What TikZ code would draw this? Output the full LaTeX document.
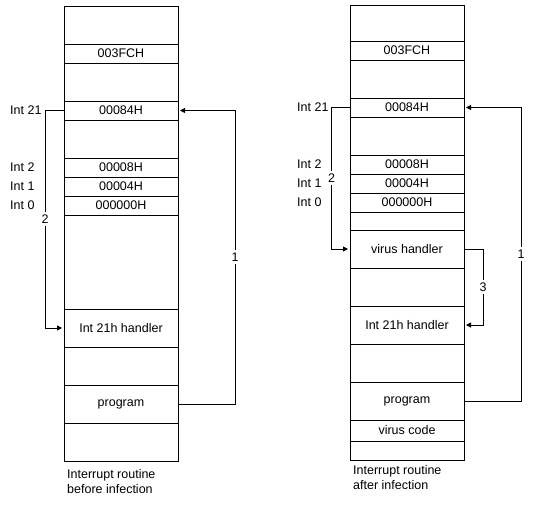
\documentclass[tikz,border=0pt]{standalone}
\usepackage{fontspec}
\setmainfont{Liberation Sans}
\usetikzlibrary{arrows.meta,positioning}

\begin{document}
\begin{tikzpicture}[x=1pt,y=-1pt,
cell/.style={draw, line width=1pt, minimum width=114pt, inner sep=0pt, outer sep=0pt, font=\fontsize{12.5}{14}\selectfont},
tall/.style={cell, minimum height=38pt},
short/.style={cell, minimum height=19pt},
intlabel/.style={anchor=west, inner sep=0pt, font=\fontsize{12.5}{14}\selectfont},
caption/.style={anchor=north west, align=left, inner sep=0pt, font=\fontsize{12.5}{15.5}\selectfont},
num/.style={fill=white, inner sep=2.5pt, font=\fontsize{12.5}{14}\selectfont},
link/.style={line width=1pt, -{Triangle[length=5pt,width=5pt]}, shorten >=2pt}
]

\path[use as bounding box, fill=white] (0,0) rectangle (541,506);

% Memory before infection (left column)
\node[tall, anchor=north west] (lTop) at (64,6) {};
\node[short, below=0pt of lTop] (lFC) {003FCH};
\node[tall, below=0pt of lFC] (lGapA) {};
\node[short, below=0pt of lGapA] (l84) {00084H};
\node[tall, below=0pt of l84] (lGapB) {};
\node[short, below=0pt of lGapB] (l08) {00008H};
\node[short, below=0pt of l08] (l04) {00004H};
\node[short, below=0pt of l04] (l00) {000000H};
\node[cell, minimum height=94pt, below=0pt of l00] (lGapC) {};
\node[tall, below=0pt of lGapC] (lH21) {Int 21h handler};
\node[tall, below=0pt of lH21] (lGapD) {};
\node[tall, below=0pt of lGapD] (lProg) {program};
\node[tall, below=0pt of lProg] (lEnd) {};

% Vector labels (left)
\node[intlabel] (lI21) at (10,0 |- l84) {Int 21};
\node[intlabel] (lI2) at (10,0 |- l08) {Int 2};
\node[intlabel] (lI1) at (10,0 |- l04) {Int 1};
\node[intlabel] (lI0) at (10,0 |- l00) {Int 0};

\node[caption] (lCap) at ([xshift=3pt,yshift=-8pt]lEnd.south west) {Interrupt routine\\before infection};

% Memory after infection (right column)
\node[cell, minimum height=36pt, anchor=north west] (rTop) at (350,5) {};
\node[short, below=0pt of rTop] (rFC) {003FCH};
\node[tall, below=0pt of rFC] (rGapA) {};
\node[short, below=0pt of rGapA] (r84) {00084H};
\node[tall, below=0pt of r84] (rGapB) {};
\node[short, below=0pt of rGapB] (r08) {00008H};
\node[short, below=0pt of r08] (r04) {00004H};
\node[short, below=0pt of r04] (r00) {000000H};
\node[cell, minimum height=18pt, below=0pt of r00] (rGapC) {};
\node[tall, below=0pt of rGapC] (rVir) {virus handler};
\node[tall, below=0pt of rVir] (rGapD) {};
\node[tall, below=0pt of rGapD] (rH21) {Int 21h handler};
\node[tall, below=0pt of rH21] (rGapE) {};
\node[tall, below=0pt of rGapE] (rProg) {program};
\node[cell, minimum height=21pt, below=0pt of rProg] (rVcode) {virus code};
\node[short, below=0pt of rVcode] (rEnd) {};

% Vector labels (right)
\node[intlabel] (rI21) at (297,0 |- r84) {Int 21};
\node[intlabel] (rI2) at (297,0 |- r08) {Int 2};
\node[intlabel] (rI1) at (297,0 |- r04) {Int 1};
\node[intlabel] (rI0) at (297,0 |- r00) {Int 0};

\node[caption] (rCap) at ([xshift=3pt,yshift=-5pt]rEnd.south west) {Interrupt routine\\after infection};

% Call paths
\draw[link] (l84.west) -- ++(-19,0) |- node[num, pos=0.25] {2} (lH21.west);
\draw[link] (lProg.east) -- ++(57,0) |- node[num, pos=0.25] {1} (l84.east);

\draw[link] (r84.west) -- ++(-18.5,0) |- node[num, pos=0.25] {2} (rVir.west);
\draw[link] (rProg.east) -- ++(57,0) |- node[num, pos=0.25] {1} (r84.east);
\draw[link] (rVir.east) -- ++(19,0) |- node[num, pos=0.25] {3} (rH21.east);

\end{tikzpicture}
\end{document}
